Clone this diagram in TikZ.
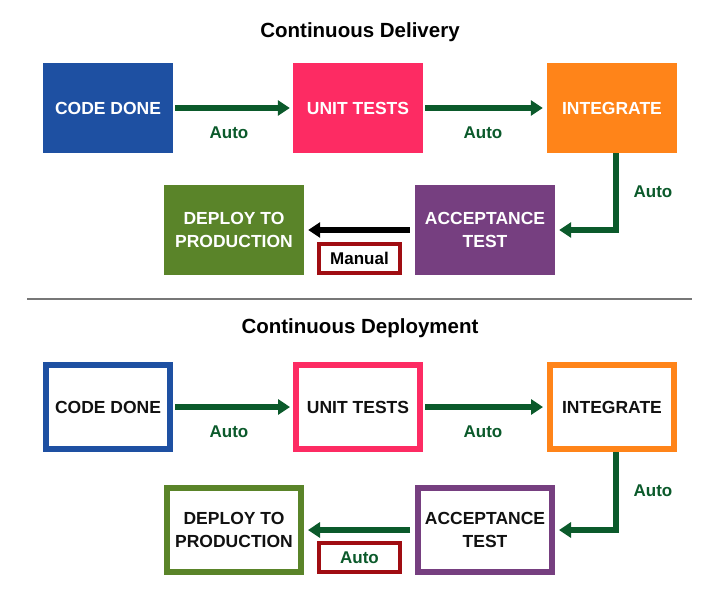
\documentclass[tikz,border=0pt]{standalone}
\usepackage{fontspec}
\setmainfont{Liberation Sans}
\usetikzlibrary{arrows.meta}
\definecolor{cblue}{HTML}{1E50A2}
\definecolor{cpink}{HTML}{FD2B63}
\definecolor{corange}{HTML}{FF8419}
\definecolor{cpurple}{HTML}{763F80}
\definecolor{cgreen}{HTML}{5A8429}
\definecolor{agreen}{HTML}{0B5A2B}
\definecolor{cred}{HTML}{A00D12}
\definecolor{rulegray}{HTML}{777777}
\definecolor{txtblack}{HTML}{111111}
\begin{document}
\begin{tikzpicture}[x=1pt,y=-1pt,
  boxfont/.style={font=\fontsize{17.5}{23}\selectfont\bfseries, align=center, inner sep=0pt},
  fillbox/.style={boxfont, minimum width=130pt, minimum height=90pt, text=white},
  linebox/.style={boxfont, minimum width=124pt, minimum height=84pt, line width=6pt, draw, fill=white, text=txtblack},
  wide/.style={minimum width=140pt},
  widel/.style={minimum width=134pt},
  titletext/.style={font=\fontsize{20.5}{24}\selectfont\bfseries, text=black},
  lbl/.style={font=\fontsize{17}{20}\selectfont\bfseries, inner sep=0pt},
  autolbl/.style={lbl, text=agreen},
  tagbox/.style={lbl, minimum width=81pt, minimum height=29pt, draw=cred, line width=4pt, fill=white},
  arr/.style={line width=6pt, line join=miter, draw=agreen, -{Triangle[length=12pt,width=15pt]}},
  blackarr/.style={arr, draw=black},
]
\useasboundingbox (0,0) rectangle (720,600);
\fill[white] (0,0) rectangle (720,600);

% ---------- Continuous Delivery ----------
\node[titletext] (t1) at (360,32) {Continuous Delivery};
\node[fillbox, fill=cblue]   (cd1)  at (108,108) {CODE DONE};
\node[fillbox, fill=cpink]   (ut1)  at (358,108) {UNIT TESTS};
\node[fillbox, fill=corange] (in1)  at (612,108) {INTEGRATE};
\node[fillbox, wide, fill=cgreen]  (dp1)  at (234,230) {DEPLOY TO\\PRODUCTION};
\node[fillbox, wide, fill=cpurple] (ac1)  at (485,230) {ACCEPTANCE\\TEST};

\draw[arr] ([xshift=2pt]cd1.east) -- ([xshift=-3pt]ut1.west);
\draw[arr] ([xshift=2pt]ut1.east) -- ([xshift=-4pt]in1.west);
\draw[arr] ([xshift=4pt]in1.south) |- ([xshift=4pt]ac1.east);
\draw[blackarr] ([xshift=-5pt]ac1.west) -- ([xshift=4pt]dp1.east);

\node[autolbl] (a11) at (229,133) {Auto};
\node[autolbl] (a12) at (483,133) {Auto};
\node[autolbl] (a13) at (653,192) {Auto};
\node[tagbox, text=black] (m1) at (359.5,258.5) {Manual};

% separator
\draw[rulegray, line width=2pt] (27,299) -- (692,299);

% ---------- Continuous Deployment ----------
\node[titletext] (t2) at (360,328) {Continuous Deployment};
\node[linebox, draw=cblue]   (cd2)  at (108,407) {CODE DONE};
\node[linebox, draw=cpink]   (ut2)  at (358,407) {UNIT TESTS};
\node[linebox, draw=corange] (in2)  at (612,407) {INTEGRATE};
\node[linebox, widel, draw=cgreen]  (dp2)  at (234,530) {DEPLOY TO\\PRODUCTION};
\node[linebox, widel, draw=cpurple] (ac2)  at (485,530) {ACCEPTANCE\\TEST};

\draw[arr] ([xshift=2pt]cd2.east) -- ([xshift=-3pt]ut2.west);
\draw[arr] ([xshift=2pt]ut2.east) -- ([xshift=-4pt]in2.west);
\draw[arr] ([xshift=4pt]in2.south) |- ([xshift=4pt]ac2.east);
\draw[arr] ([xshift=-5pt]ac2.west) -- ([xshift=4pt]dp2.east);

\node[autolbl] (a21) at (229,432) {Auto};
\node[autolbl] (a22) at (483,432) {Auto};
\node[autolbl] (a23) at (653,491) {Auto};
\node[tagbox, text=agreen] (m2) at (359.5,557.5) {Auto};
\end{tikzpicture}
\end{document}
